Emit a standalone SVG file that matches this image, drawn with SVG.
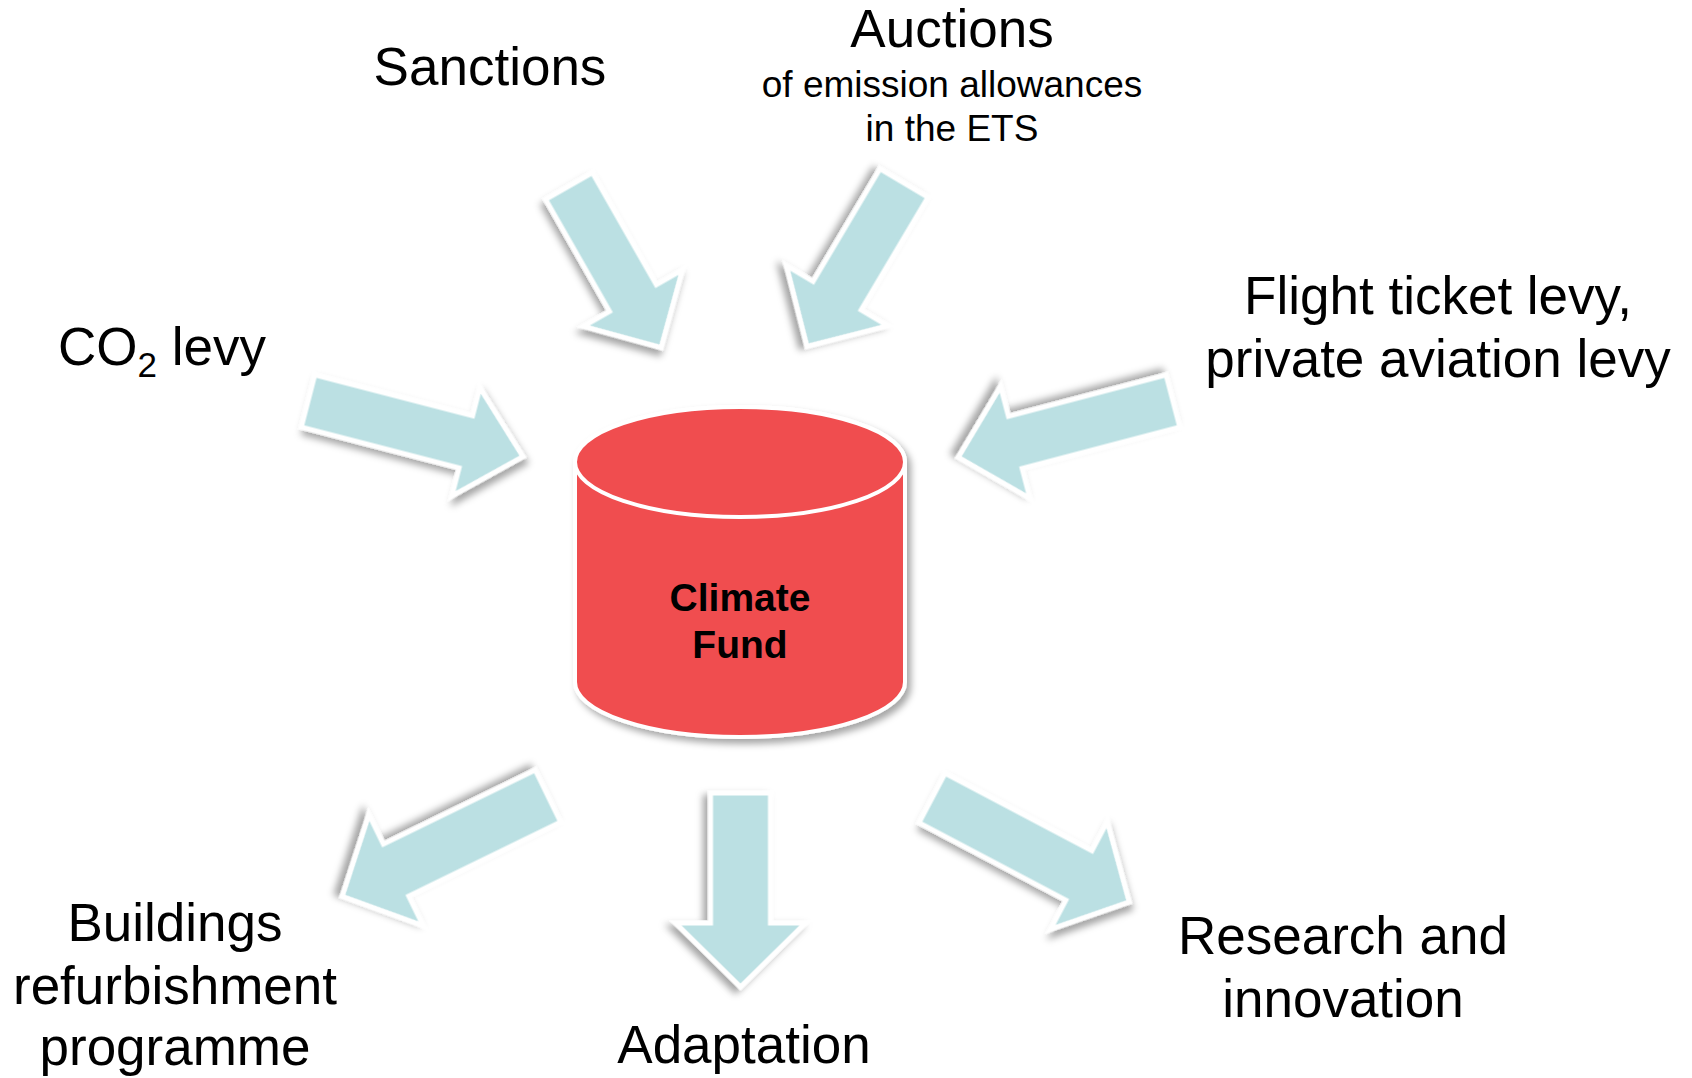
<svg xmlns="http://www.w3.org/2000/svg" width="1692" height="1078" viewBox="0 0 1692 1078">
<defs>
<filter id="sh" x="-20%" y="-20%" width="150%" height="150%">
<feDropShadow dx="4" dy="5" stdDeviation="3.5" flood-color="#000" flood-opacity="0.35"/>
</filter>
<style>
.arr{fill:#BBE0E3;stroke:#fff;stroke-width:5;stroke-linejoin:miter;filter:url(#sh)}
.lbl{font-family:"Liberation Sans",Arial,sans-serif;font-size:53px;fill:#000;text-anchor:middle}
.sub{font-size:37px}
.start{text-anchor:start}
.cyl{fill:#F04D50;stroke:#fff;stroke-width:4}
.ctext{font-family:"Liberation Sans",Arial,sans-serif;font-size:39px;font-weight:bold;fill:#000;text-anchor:middle}
</style>
</defs>
<rect width="1692" height="1078" fill="#fff"/>
<g id="connectors">
<polygon class="arr" points="0,-27 129,-27 129,-57 186,0 129,57 129,27 0,27" transform="translate(569,186) rotate(60.3)"/>
<polygon class="arr" points="0,-28 131,-28 131,-59 190,0 131,59 131,28 0,28" transform="translate(904,183) rotate(120.7)"/>
<polygon class="arr" points="0,-27 163,-27 163,-56 222,0 163,56 163,27 0,27" transform="translate(308,401) rotate(14.5)"/>
<polygon class="arr" points="0,-27 163,-27 163,-58 222,0 163,58 163,27 0,27" transform="translate(1173,401) rotate(165.3)"/>
<polygon class="arr" points="0,-29 169,-29 169,-62 229,0 169,62 169,29 0,29" transform="translate(548,796) rotate(154)"/>
<polygon class="arr" points="0,-30 130,-30 130,-65 194,0 130,65 130,30 0,30" transform="translate(740.5,793) rotate(90)"/>
<polygon class="arr" points="0,-28 166,-28 166,-61 223,0 166,61 166,28 0,28" transform="translate(932,798) rotate(27.8)"/>
</g>
<g id="climate-fund">
<g filter="url(#sh)">
<path class="cyl" d="M575,462 L575,682 A165,55 0 0 0 905,682 L905,462 A165,55 0 0 0 575,462 Z"/>
<ellipse class="cyl" cx="740" cy="462" rx="165" ry="55"/>
</g>
<text class="ctext" x="740" y="611">Climate</text>
<text class="ctext" x="740" y="658">Fund</text>
</g>
<g id="sanctions"><text class="lbl" x="490" y="85">Sanctions</text></g>
<g id="auctions">
<text class="lbl" x="952" y="47">Auctions</text>
<text class="lbl sub" x="952" y="97">of emission allowances</text>
<text class="lbl sub" x="952" y="141">in the ETS</text>
</g>
<g id="co2-levy"><text class="lbl start" x="58" y="365">CO<tspan font-size="35" dy="12">2</tspan><tspan dy="-12"> levy</tspan></text></g>
<g id="flight-levy">
<text class="lbl" x="1438" y="314">Flight ticket levy,</text>
<text class="lbl" x="1438" y="377">private aviation levy</text>
</g>
<g id="buildings">
<text class="lbl" x="175" y="941">Buildings</text>
<text class="lbl" x="175" y="1004">refurbishment</text>
<text class="lbl" x="175" y="1065">programme</text>
</g>
<g id="adaptation"><text class="lbl" x="744" y="1063">Adaptation</text></g>
<g id="research">
<text class="lbl" x="1343" y="954">Research and</text>
<text class="lbl" x="1343" y="1017">innovation</text>
</g>
</svg>
